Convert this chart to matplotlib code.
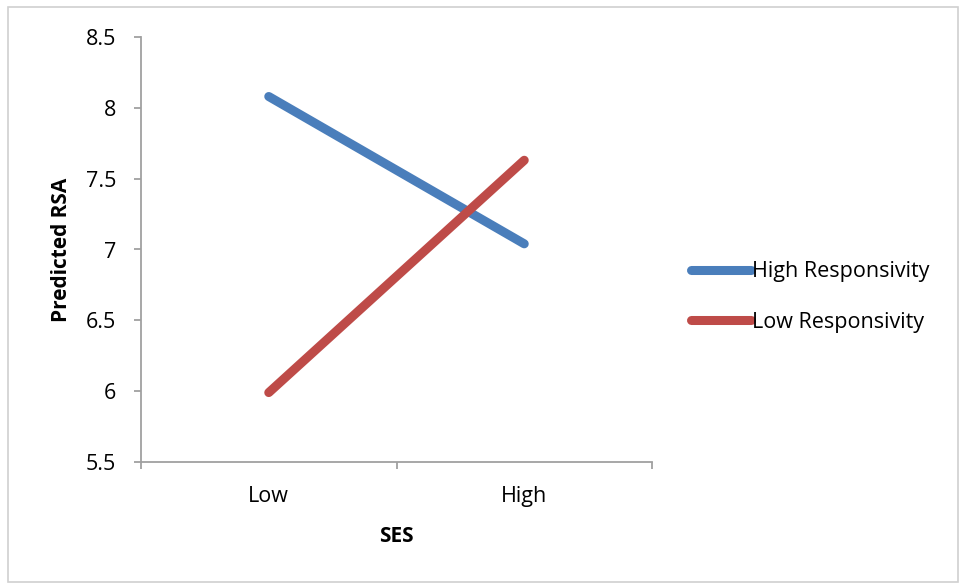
import matplotlib.pyplot as plt
from matplotlib.patches import Rectangle

categories = ['Low', 'High']
high_resp = [8.08, 7.04]
low_resp = [5.99, 7.63]
y_ticks = [5.5, 6, 6.5, 7, 7.5, 8, 8.5]
y_labels = ['5.5', '6', '6.5', '7', '7.5', '8', '8.5']

plt.rcParams['font.family'] = ['Open Sans', 'DejaVu Sans']

W, H = 961, 583
fig = plt.figure(figsize=(W / 100, H / 100), dpi=100)
ax = fig.add_axes([141 / W, 1 - 462 / H, (652 - 141) / W, (462 - 37) / H])

# outer chart border
fig.patches.append(Rectangle((8 / W, 1 / H), (958 - 8) / W, (576 - 1) / H,
                             transform=fig.transFigure, fill=False,
                             edgecolor='#d0d0d0', linewidth=1.2))

x = [0.5, 1.5]
ax.plot(x, high_resp, color='#4a7ebb', linewidth=6.5, solid_capstyle='round',
        label='High Responsivity')
ax.plot(x, low_resp, color='#be4b48', linewidth=6.5, solid_capstyle='round',
        label='Low Responsivity')

fs = 15.5
ax.set_xlim(0, 2)
ax.set_ylim(5.5, 8.5)
ax.set_yticks(y_ticks)
ax.set_yticklabels(y_labels, fontsize=fs)
ax.set_xticks([0, 1, 2])
ax.set_xticklabels([])
ax.set_xticks(x, minor=True)
ax.set_xticklabels(categories, minor=True, fontsize=fs)
ax.tick_params(axis='x', which='minor', length=0, pad=17)
ax.tick_params(axis='x', which='major', length=5, color='#a0a0a0', width=1.3)
ax.tick_params(axis='y', length=5, color='#a0a0a0', width=1.3, pad=13)

for s in ['top', 'right']:
    ax.spines[s].set_visible(False)
for s in ['left', 'bottom']:
    ax.spines[s].set_color('#a0a0a0')
    ax.spines[s].set_linewidth(1.3)

ax.set_xlabel('SES', fontsize=15, fontweight='bold', labelpad=14)
ax.set_ylabel('Predicted RSA', fontsize=15, fontweight='bold', labelpad=10)

fig.legend(loc='center left', bbox_to_anchor=(672 / W, 1 - 297 / H),
           frameon=False, fontsize=fs, handlelength=2.75, handletextpad=0.05,
           labelspacing=1.35)

fig.savefig('out.png', dpi=100)
